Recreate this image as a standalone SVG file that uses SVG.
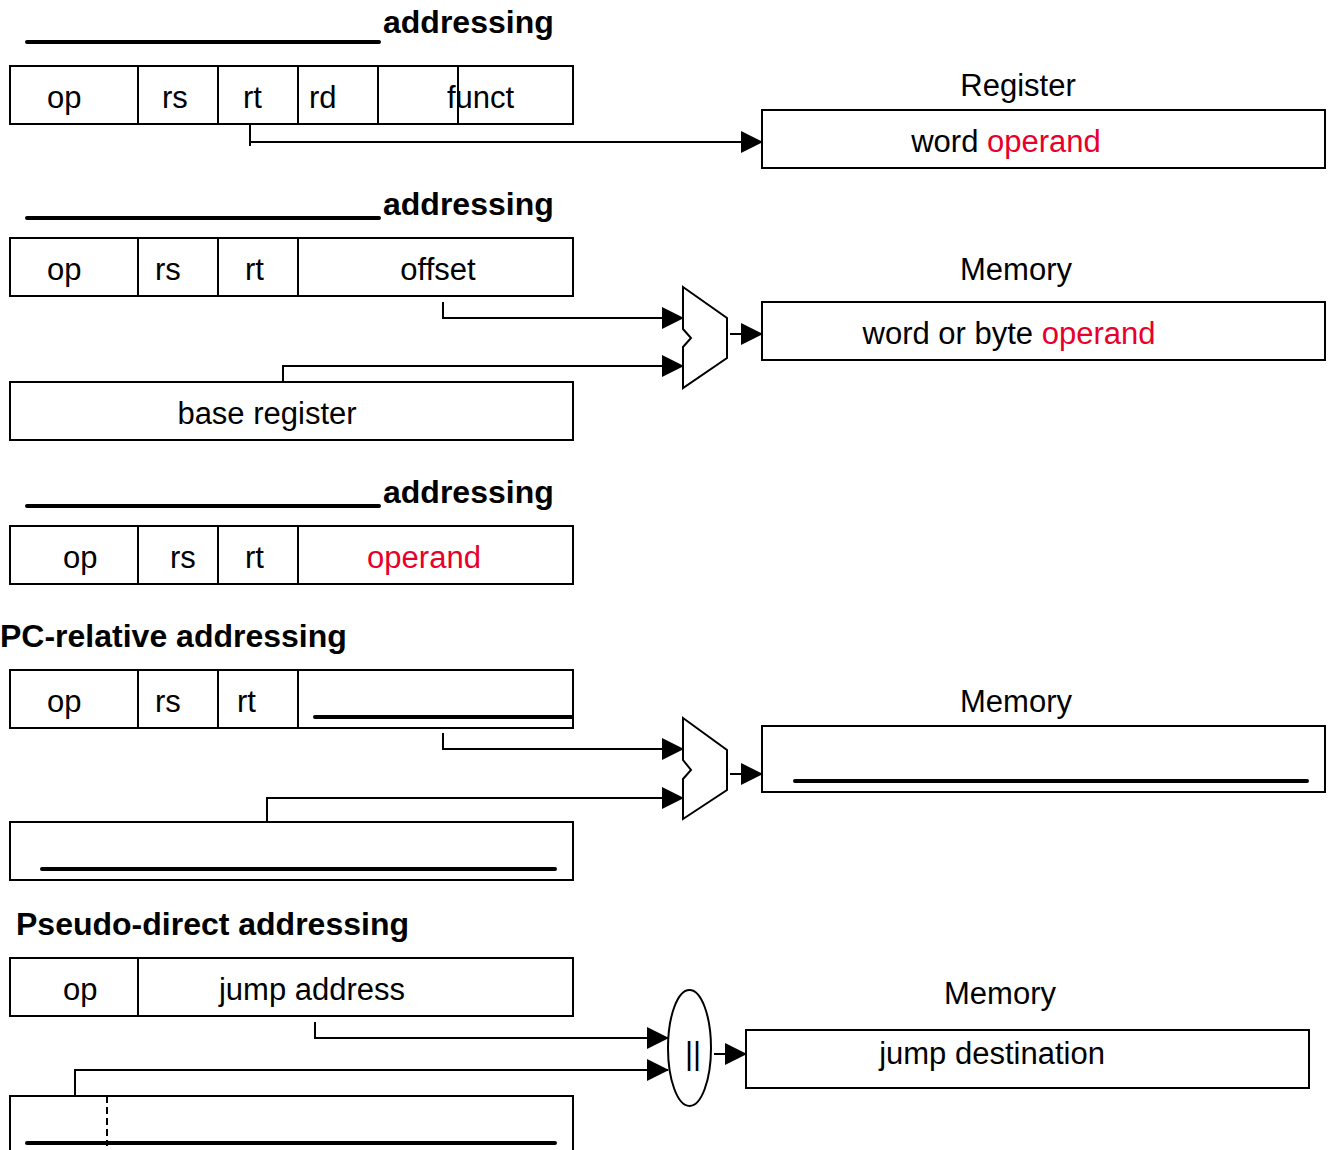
<svg xmlns="http://www.w3.org/2000/svg" width="1328" height="1150" viewBox="0 0 1328 1150">
<style>
.box{fill:#fff;stroke:#000;stroke-width:2}
.div{stroke:#000;stroke-width:2}
.t{font-family:"Liberation Sans",Arial,sans-serif;font-size:31px;fill:#000}
.h{font-family:"Liberation Sans",Arial,sans-serif;font-size:32px;font-weight:bold;fill:#000}
.red{fill:#e8002a}
.blank{stroke:#000;stroke-width:4;stroke-linecap:round}
.con{fill:none;stroke:#000;stroke-width:2}
.shape{fill:#fff;stroke:#000;stroke-width:2}
</style>
<defs>
<marker id="arr" markerUnits="userSpaceOnUse" markerWidth="22" markerHeight="22" refX="21" refY="11" orient="auto" viewBox="0 0 22 22">
<path d="M0,0 L22,11 L0,22 z" fill="#000"/>
</marker>
</defs>

<g id="connectors">
<path class="con" d="M250,124 V146 M250,142 H762" marker-end="url(#arr)"/>
<path class="con" d="M443,302 V318 H683" marker-end="url(#arr)"/>
<path class="con" d="M283,382 V366 H683" marker-end="url(#arr)"/>
<path class="con" d="M730,334 H762" marker-end="url(#arr)"/>
<path class="con" d="M443,733 V749 H683" marker-end="url(#arr)"/>
<path class="con" d="M267,822 V798 H683" marker-end="url(#arr)"/>
<path class="con" d="M730,774 H762" marker-end="url(#arr)"/>
<path class="con" d="M315,1022 V1038 H668" marker-end="url(#arr)"/>
<path class="con" d="M75,1096 V1070 H668" marker-end="url(#arr)"/>
<path class="con" d="M714,1054 H746" marker-end="url(#arr)"/>
</g>

<g id="sec1-title">
<line class="blank" x1="27" y1="42" x2="379" y2="42"/>
<text class="h" x="383" y="33">addressing</text>
</g>
<g id="sec1-instr">
<rect class="box" x="10" y="66" width="563" height="58"/>
<line class="div" x1="138" y1="66" x2="138" y2="124"/>
<line class="div" x1="218" y1="66" x2="218" y2="124"/>
<line class="div" x1="298" y1="66" x2="298" y2="124"/>
<line class="div" x1="378" y1="66" x2="378" y2="124"/>
<line class="div" x1="458" y1="66" x2="458" y2="124"/>
<text class="t" x="47" y="108">op</text>
<text class="t" x="162" y="108">rs</text>
<text class="t" x="243" y="108">rt</text>
<text class="t" x="309" y="108">rd</text>
<text class="t" x="447" y="108">funct</text>
</g>
<g id="sec1-register">
<text class="t" x="1018" y="96" text-anchor="middle">Register</text>
<rect class="box" x="762" y="110" width="563" height="58"/>
<text class="t" x="1006" y="152" text-anchor="middle">word <tspan class="red">operand</tspan></text>
</g>

<g id="sec2-title">
<line class="blank" x1="27" y1="218" x2="379" y2="218"/>
<text class="h" x="383" y="215">addressing</text>
</g>
<g id="sec2-instr">
<rect class="box" x="10" y="238" width="563" height="58"/>
<line class="div" x1="138" y1="238" x2="138" y2="296"/>
<line class="div" x1="218" y1="238" x2="218" y2="296"/>
<line class="div" x1="298" y1="238" x2="298" y2="296"/>
<text class="t" x="47" y="280">op</text>
<text class="t" x="155" y="280">rs</text>
<text class="t" x="245" y="280">rt</text>
<text class="t" x="438" y="280" text-anchor="middle">offset</text>
</g>
<g id="sec2-base">
<rect class="box" x="10" y="382" width="563" height="58"/>
<text class="t" x="267" y="424" text-anchor="middle">base register</text>
</g>
<g id="sec2-adder">
<path class="shape" d="M683,287 L727,318 L727,358 L683,388 L683,347 L691,338 L683,329 Z"/>
</g>
<g id="sec2-memory">
<text class="t" x="1016" y="280" text-anchor="middle">Memory</text>
<rect class="box" x="762" y="302" width="563" height="58"/>
<text class="t" x="1009" y="344" text-anchor="middle">word or byte <tspan class="red">operand</tspan></text>
</g>

<g id="sec3-title">
<line class="blank" x1="27" y1="506" x2="379" y2="506"/>
<text class="h" x="383" y="503">addressing</text>
</g>
<g id="sec3-instr">
<rect class="box" x="10" y="526" width="563" height="58"/>
<line class="div" x1="138" y1="526" x2="138" y2="584"/>
<line class="div" x1="218" y1="526" x2="218" y2="584"/>
<line class="div" x1="298" y1="526" x2="298" y2="584"/>
<text class="t" x="63" y="568">op</text>
<text class="t" x="170" y="568">rs</text>
<text class="t" x="245" y="568">rt</text>
<text class="t red" x="424" y="568" text-anchor="middle">operand</text>
</g>

<g id="sec4-title">
<text class="h" x="0" y="647">PC-relative addressing</text>
</g>
<g id="sec4-instr">
<rect class="box" x="10" y="670" width="563" height="58"/>
<line class="div" x1="138" y1="670" x2="138" y2="728"/>
<line class="div" x1="218" y1="670" x2="218" y2="728"/>
<line class="div" x1="298" y1="670" x2="298" y2="728"/>
<text class="t" x="47" y="712">op</text>
<text class="t" x="155" y="712">rs</text>
<text class="t" x="237" y="712">rt</text>
<line class="blank" x1="315" y1="717" x2="572" y2="717"/>
</g>
<g id="sec4-pc">
<rect class="box" x="10" y="822" width="563" height="58"/>
<line class="blank" x1="42" y1="869" x2="555" y2="869"/>
</g>
<g id="sec4-adder">
<path class="shape" d="M683,718 L727,750 L727,790 L683,819 L683,779 L691,770 L683,760 Z"/>
</g>
<g id="sec4-memory">
<text class="t" x="1016" y="712" text-anchor="middle">Memory</text>
<rect class="box" x="762" y="726" width="563" height="66"/>
<line class="blank" x1="795" y1="781" x2="1307" y2="781"/>
</g>

<g id="sec5-title">
<text class="h" x="16" y="935">Pseudo-direct addressing</text>
</g>
<g id="sec5-instr">
<rect class="box" x="10" y="958" width="563" height="58"/>
<line class="div" x1="138" y1="958" x2="138" y2="1016"/>
<text class="t" x="63" y="1000">op</text>
<text class="t" x="312" y="1000" text-anchor="middle">jump address</text>
</g>
<g id="sec5-pc">
<rect class="box" x="10" y="1096" width="563" height="70"/>
<line x1="107" y1="1096" x2="107" y2="1146" stroke="#000" stroke-width="2" stroke-dasharray="7,4"/>
<line class="blank" x1="27" y1="1143" x2="555" y2="1143"/>
</g>
<g id="sec5-concat">
<ellipse class="shape" cx="689.5" cy="1048" rx="21.5" ry="58"/>
<text class="t" x="693" y="1064" text-anchor="middle">||</text>
</g>
<g id="sec5-memory">
<text class="t" x="1000" y="1004" text-anchor="middle">Memory</text>
<rect class="box" x="746" y="1030" width="563" height="58"/>
<text class="t" x="992" y="1064" text-anchor="middle">jump destination</text>
</g>
</svg>
